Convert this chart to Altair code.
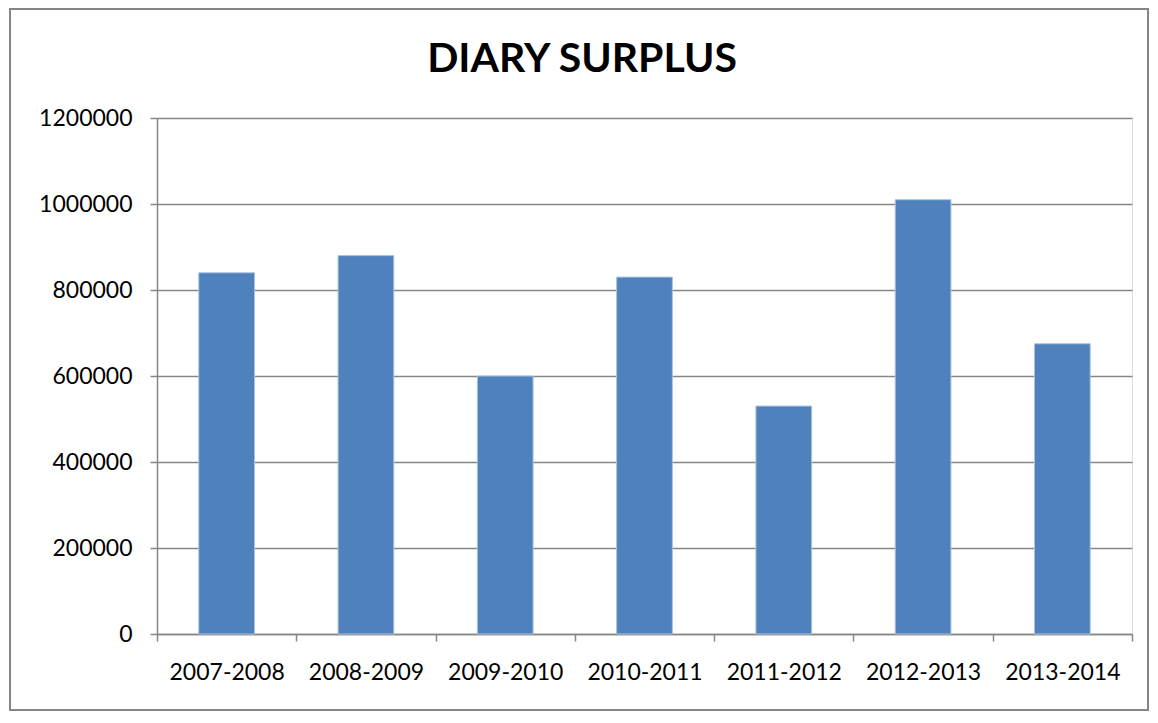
import altair as alt
import pandas as pd

years = ["2007-2008", "2008-2009", "2009-2010", "2010-2011", "2011-2012", "2012-2013", "2013-2014"]
surplus = [840000, 880000, 600000, 830000, 530000, 1010000, 675000]
y_ticks = [0, 200000, 400000, 600000, 800000, 1000000, 1200000]
title_text = "DIARY SURPLUS"

df = pd.DataFrame({"year": years, "surplus": surplus})
one = pd.DataFrame({"a": [0]})

W, H = 975, 516
PL, PT, PR, PB = 149, 110, 18, 78
FONT = "Lato"
GRAY = "#868686"

bars = alt.Chart(df).mark_bar(color="#4F81BD", stroke="#A9C2E0", strokeWidth=1,
                              width=alt.RelativeBandSize(0.4)).encode(
    x=alt.X("year:N", sort=years, title=None,
            scale=alt.Scale(paddingInner=0, paddingOuter=0),
            axis=alt.Axis(labelAngle=0, tickBand="extent", labelFont=FONT, labelFontSize=23,
                          labelColor="black", labelPadding=20, tickSize=7, tickColor=GRAY,
                          tickWidth=1.5, domainColor=GRAY, domainWidth=1.5, grid=False)),
    y=alt.Y("surplus:Q", title=None,
            scale=alt.Scale(domain=[0, 1200000], nice=False),
            axis=alt.Axis(values=y_ticks, format="d", labelFont=FONT, labelFontSize=23,
                          labelColor="black", labelPadding=18, tickSize=7, tickColor=GRAY,
                          tickWidth=1.5, domainColor=GRAY, domainWidth=1.5,
                          grid=True, gridColor=GRAY, gridWidth=1.6)),
)

title = alt.Chart(one).mark_text(text=title_text, font=FONT, fontSize=41, fontWeight="bold",
                                 color="black", align="center", baseline="alphabetic").encode(
    x=alt.value(425), y=alt.value(-46))

border = alt.Chart(one).mark_rect(fill=None, stroke=GRAY, strokeWidth=2).encode(
    x=alt.value(-147), x2=alt.value(W + PR - 2), y=alt.value(-PT + 1), y2=alt.value(H + PB - 2))

chart = alt.layer(bars, title, border).properties(
    width=W, height=H, autosize="none",
    padding={"left": PL, "top": PT, "right": PR, "bottom": PB},
).configure_view(stroke=None).configure(background="white")

chart.save("out.html", embed_options={"renderer": "svg", "actions": False})
